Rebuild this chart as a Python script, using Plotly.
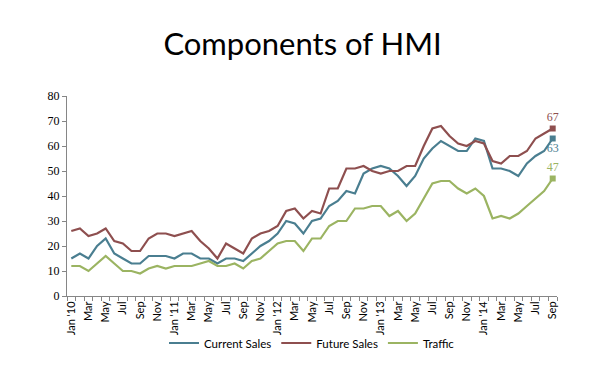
import plotly.graph_objects as go

months = ["Jan", "Feb", "Mar", "Apr", "May", "Jun", "Jul", "Aug", "Sep", "Oct", "Nov", "Dec"]
years = ["10", "11", "12", "13", "14"]
categories = [f"{m} '{y}" for y in years for m in months][:57]

current_sales = [15, 17, 15, 20, 23, 17, 15, 13, 13, 16, 16, 16,
                 15, 17, 17, 15, 15, 13, 15, 15, 14, 17, 20, 22,
                 25, 30, 29, 25, 30, 31, 36, 38, 42, 41, 49, 51,
                 52, 51, 48, 44, 48, 55, 59, 62, 60, 58, 58, 63,
                 62, 51, 51, 50, 48, 53, 56, 58, 63]
future_sales = [26, 27, 24, 25, 27, 22, 21, 18, 18, 23, 25, 25,
                24, 25, 26, 22, 19, 15, 21, 19, 17, 23, 25, 26,
                28, 34, 35, 31, 34, 33, 43, 43, 51, 51, 52, 50,
                49, 50, 50, 52, 52, 60, 67, 68, 64, 61, 60, 62,
                61, 54, 53, 56, 56, 58, 63, 65, 67]
traffic = [12, 12, 10, 13, 16, 13, 10, 10, 9, 11, 12, 11,
           12, 12, 12, 13, 14, 12, 12, 13, 11, 14, 15, 18,
           21, 22, 22, 18, 23, 23, 28, 30, 30, 35, 35, 36,
           36, 32, 34, 30, 33, 39, 45, 46, 46, 43, 41, 43,
           40, 31, 32, 31, 33, 36, 39, 42, 47]

tick_labels = [c if (c.startswith("Jan") or i == 0) else c.split(" ")[0]
               for i, c in enumerate(categories)][::2]

series = [
    ("Current Sales", current_sales, "#4A7E90", "bottom center"),
    ("Future Sales", future_sales, "#8E4F4F", "top center"),
    ("Traffic", traffic, "#9BB462", "top center"),
]

x = list(range(len(categories)))
fig = go.Figure()
for name, vals, color, pos in series:
    fig.add_trace(go.Scatter(x=x, y=vals, name=name, mode="lines",
                             line=dict(color=color, width=2.2),
                             hovertext=categories))
for name, vals, color, pos in series:
    fig.add_trace(go.Scatter(x=[x[-1]], y=[vals[-1]], mode="markers+text",
                             marker=dict(symbol="square", size=6, color=color),
                             text=[str(vals[-1])], textposition=pos,
                             textfont=dict(family="Liberation Serif", size=12, color=color),
                             showlegend=False, cliponaxis=False))

fig.update_layout(
    width=589, height=378,
    paper_bgcolor="white", plot_bgcolor="white",
    margin=dict(l=59, r=40, t=88, b=90),
    title=dict(text="Components of HMI", x=0.5, xanchor="center", y=0.905, yanchor="middle",
               font=dict(family="Lato", size=31, color="black")),
    legend=dict(orientation="h", x=0.5, xanchor="center", y=-0.235, yanchor="middle",
                bgcolor="rgba(0,0,0,0)",
                font=dict(family="Lato", size=11.5, color="black"),
                itemwidth=30, tracegroupgap=0),
    showlegend=True,
)
fig.update_xaxes(
    range=[-0.5, len(categories) - 0.5],
    tickmode="array", tickvals=x[::2], ticktext=tick_labels, tickangle=-90,
    ticks="", showgrid=False, zeroline=False,
    showline=True, linecolor="#868686", linewidth=1,
    tickfont=dict(family="Lato", size=11, color="black"),
    minor=dict(tickmode="array", tickvals=[i - 0.5 for i in range(len(categories) + 1)],
               ticks="outside", ticklen=4, tickcolor="#868686", showgrid=False),
)
fig.update_yaxes(
    range=[0, 80], dtick=10, ticks="outside", ticklen=4, tickcolor="#868686",
    showgrid=False, zeroline=False, showline=True, linecolor="#868686", linewidth=1,
    tickfont=dict(family="Liberation Serif", size=12, color="black"),
)
fig.write_html("out.html")
